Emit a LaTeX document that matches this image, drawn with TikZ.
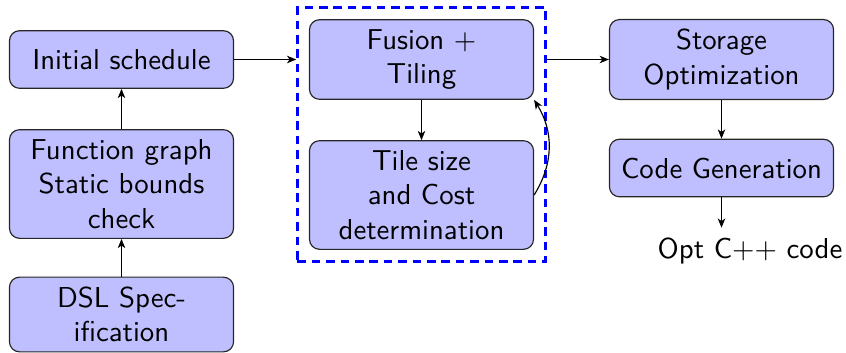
\documentclass[tikz,border=0pt]{standalone}
\usetikzlibrary{fit,arrows.meta}
\tikzset{
  blockbox/.style={draw=black!85, fill=blue!25, rounded corners=3.5pt, text width=2.5cm, align=center, minimum height=20pt, font=\sffamily, inner sep=0.3333em},
  plaintext/.style={font=\sffamily, inner sep=0.3333em},
  flow/.style={-{Stealth[length=3.2pt,width=2.6pt,inset=0.9pt]}, line width=0.4pt},
  groupbox/.style={draw=blue, dash pattern=on 3pt off 2pt, line width=0.8pt, inner sep=4pt}
}
\begin{document}
\begin{tikzpicture}[x=0.3472pt,y=-0.3472pt]
\useasboundingbox (0,0) rectangle (846,352);
\node[blockbox] (init) at (121.5,59.5) {Initial schedule};
\node[blockbox] (func) at (121.5,184) {Function graph\\Static bounds\\check};
\node[blockbox] (dsl) at (121.5,314.5) {DSL Spec-\\ification};
\node[blockbox] (fus) at (421.5,59.5) {Fusion $+$\\Tiling};
\node[blockbox] (tile) at (421.5,195) {Tile size\\and Cost\\determination};
\node[blockbox] (stor) at (721.5,59.5) {Storage\\Optimization};
\node[blockbox] (code) at (721.5,168) {Code Generation};
\node[plaintext] (out) at (750,251) {Opt C$++$ code};
\node[groupbox, fit=(fus)(tile)] (grp) {};
\draw[flow] (dsl) -- (func);
\draw[flow] (func) -- (init);
\draw[flow] (init.east) -- (init.east -| grp.west);
\draw[flow] (grp.east |- stor.west) -- (stor.west);
\draw[flow] (fus) -- (tile);
\draw[flow] (tile.east) to[bend right=32] (fus.south east);
\draw[flow] (stor) -- (code);
\draw[flow] (code.south) -- (code.south |- out.north);
\end{tikzpicture}
\end{document}
